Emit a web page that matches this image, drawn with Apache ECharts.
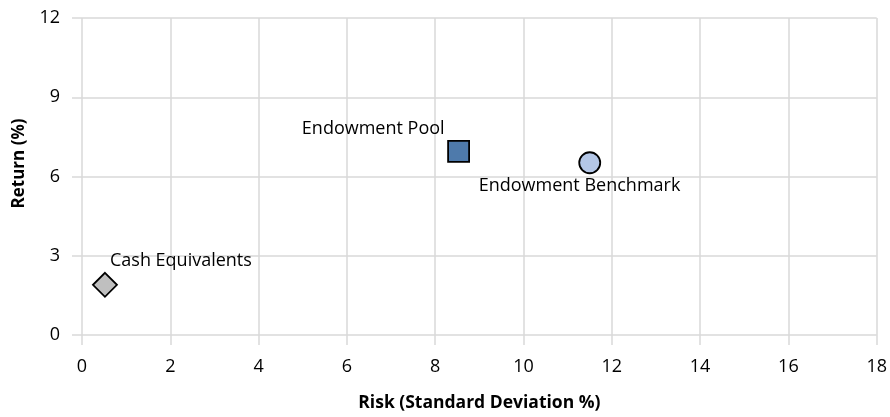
<!DOCTYPE html>
<html>
<head>
<meta charset="utf-8">
<script src="https://cdn.jsdelivr.net/npm/echarts@6/dist/echarts.min.js"></script>
<style>html,body{margin:0;padding:0;background:#fff;overflow:hidden;}#c{width:100vw;height:100vh;}</style>
</head>
<body>
<div id="c"></div>
<script>
const names = ['Cash Equivalents', 'Endowment Pool', 'Endowment Benchmark'];
const risk = [0.52, 8.53, 11.5];
const returns = [1.9, 6.95, 6.52];
const xTicks = [0, 2, 4, 6, 8, 10, 12, 14, 16, 18];
const yTicks = [0, 3, 6, 9, 12];

const symbols = ['diamond', 'rect', 'circle'];
const sizes = [[24, 24], [21, 21], [21, 21]];
const fills = ['#bfbfbf', '#4e7aab', '#b4c7e7'];
const labelCfg = [
  { align: 'left', offset: [5, -24] },
  { align: 'right', offset: [-14, -23] },
  { align: 'left', offset: [-111, 23] }
];

const font = '"Open Sans", "Noto Sans", sans-serif';
const chart = echarts.init(document.getElementById('c'));
chart.setOption({
  animation: false,
  grid: { left: 82, right: 10, top: 18, bottom: 75, containLabel: false },
  xAxis: {
    type: 'value', min: 0, max: 18, interval: 2,
    name: 'Risk (Standard Deviation %)', nameLocation: 'middle', nameGap: 59,
    nameTextStyle: { fontFamily: font, fontSize: 17.5, fontWeight: 'bold', color: '#000' },
    axisLine: { show: false },
    axisTick: { show: true, length: 10, lineStyle: { color: '#d9d9d9', width: 1.5 } },
    axisLabel: { margin: 23, fontFamily: font, fontSize: 18, color: '#000' },
    splitLine: { show: true, lineStyle: { color: '#d9d9d9', width: 1.5 } }
  },
  yAxis: {
    type: 'value', min: 0, max: 12, interval: 3,
    name: 'Return (%)', nameLocation: 'middle', nameGap: 54,
    nameTextStyle: { fontFamily: font, fontSize: 17, fontWeight: 'bold', color: '#000', padding: [0, 0, 0, 26] },
    axisLine: { show: false },
    axisTick: { show: true, length: 10, lineStyle: { color: '#d9d9d9', width: 1.5 } },
    axisLabel: { margin: 22, fontFamily: font, fontSize: 18, color: '#000' },
    splitLine: { show: true, lineStyle: { color: '#d9d9d9', width: 1.5 } }
  },
  series: [{
    type: 'scatter',
    data: names.map((n, i) => ({
      name: n,
      value: [risk[i], returns[i]],
      symbol: symbols[i],
      symbolSize: sizes[i],
      itemStyle: { color: fills[i], borderColor: '#000', borderWidth: 1.8, opacity: 1 },
      label: {
        show: true, position: 'inside', formatter: n,
        align: labelCfg[i].align, verticalAlign: 'middle', offset: labelCfg[i].offset,
        fontFamily: font, fontSize: 18, color: '#000'
      }
    }))
  }]
});
</script>
</body>
</html>
